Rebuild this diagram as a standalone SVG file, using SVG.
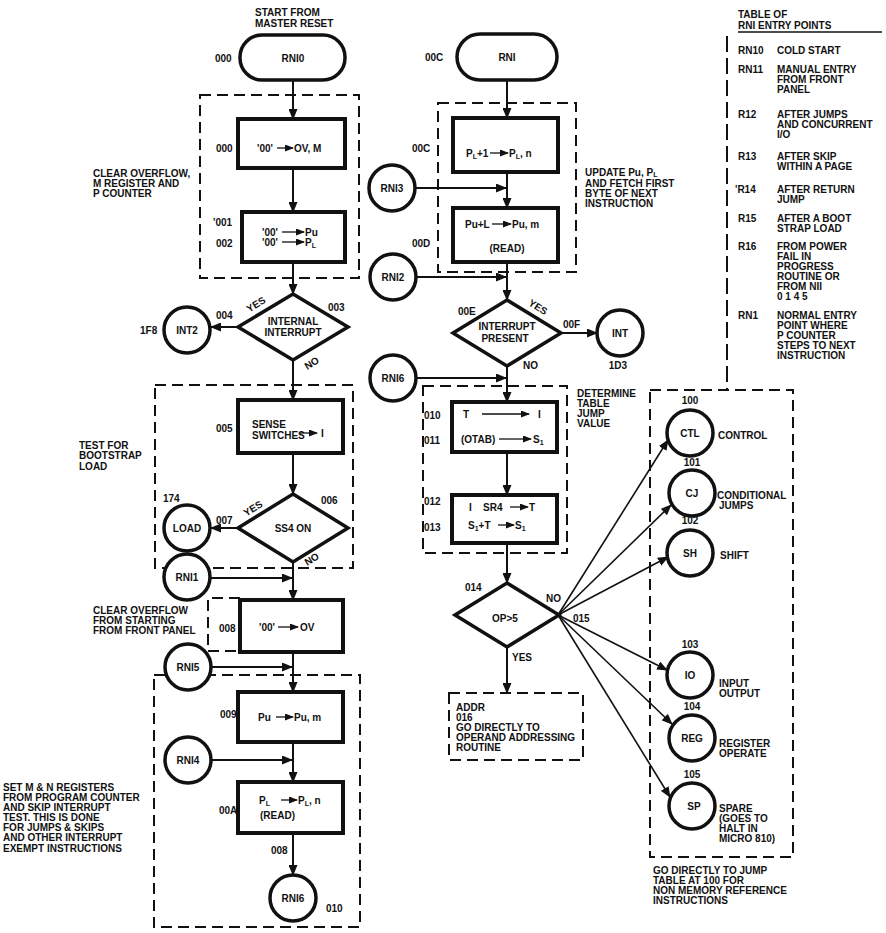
<svg xmlns="http://www.w3.org/2000/svg" width="886" height="933" viewBox="0 0 886 933">
<style>
.t{font-family:"Liberation Sans",Arial,Helvetica,sans-serif;font-weight:bold;font-size:10px;fill:#111}
.c{text-anchor:middle}
.box{fill:#fff;stroke:#111;stroke-width:4}
.circ{fill:#fff;stroke:#111;stroke-width:3.5}
.dia{fill:#fff;stroke:#111;stroke-width:3.5;stroke-linejoin:miter}
.dash{fill:none;stroke:#111;stroke-width:2;stroke-dasharray:11 6}
.conn{fill:none;stroke:#111;stroke-width:2;marker-end:url(#ah)}
.fan{fill:none;stroke:#111;stroke-width:1.6;marker-end:url(#ah)}
.sa{fill:none;stroke:#111;stroke-width:1.3;marker-end:url(#sh)}
.sub{font-size:7px}
</style>
<defs>
<marker id="ah" markerUnits="userSpaceOnUse" markerWidth="11" markerHeight="9" refX="10" refY="4.5" orient="auto"><path d="M0,0 L11,4.5 L0,9 z" fill="#111"/></marker>
<marker id="sh" markerUnits="userSpaceOnUse" markerWidth="9" markerHeight="7" refX="8" refY="3.5" orient="auto"><path d="M0,0 L9,3.5 L0,7 z" fill="#111"/></marker>
</defs>
<rect width="886" height="933" fill="#fff"/>

<!-- dashed groupings -->
<g id="groups">
<rect class="dash" x="200" y="95" width="159" height="183"/>
<rect class="dash" x="155" y="385" width="198" height="183"/>
<path class="dash" d="M240,598 H208 V651 H240"/>
<rect class="dash" x="154" y="675" width="206" height="252"/>
<rect class="dash" x="438" y="103" width="138" height="169"/>
<rect class="dash" x="423" y="386" width="144" height="167"/>
<rect class="dash" x="650" y="390" width="143" height="467"/>
<path class="dash" d="M727,36 V390" style="stroke-dasharray:16 6"/>
</g>

<!-- connectors -->
<g id="connectors">
<path class="conn" d="M293,80 V119"/>
<path class="conn" d="M293,168 V212"/>
<path class="conn" d="M293,262 V294"/>
<path class="conn" d="M238,327 H211"/>
<path class="conn" d="M293,360 V400"/>
<path class="conn" d="M293,453 V494"/>
<path class="conn" d="M238,528 H211"/>
<path class="conn" d="M293,562 V600"/>
<path class="conn" d="M211,578 H292"/>
<path class="conn" d="M293,652 V692"/>
<path class="conn" d="M212,667 H292"/>
<path class="conn" d="M293,742 V782"/>
<path class="conn" d="M212,760 H292"/>
<path class="conn" d="M293,833 V875"/>

<path class="conn" d="M507,80 V118"/>
<path class="conn" d="M507,172 V208"/>
<path class="conn" d="M416,188 H506"/>
<path class="conn" d="M507,262 V300"/>
<path class="conn" d="M416,277 H506"/>
<path class="conn" d="M560,333 H597"/>
<path class="conn" d="M507,366 V402"/>
<path class="conn" d="M416,378 H506"/>
<path class="conn" d="M507,452 V495"/>
<path class="conn" d="M507,543 V583"/>
<path class="conn" d="M507,647 V693"/>

<path class="fan" d="M558,615 L668,440"/>
<path class="fan" d="M558,615 L671,505"/>
<path class="fan" d="M558,615 L668,557"/>
<path class="fan" d="M558,615 L667,670"/>
<path class="fan" d="M558,615 L672,724"/>
<path class="fan" d="M558,615 L670,797"/>
</g>

<!-- left column -->
<g id="rni0">
<rect class="box" x="240" y="35" width="105" height="45" rx="22" style="stroke-width:3.5"/>
<text class="t c" x="293" y="61.5">RNI0</text>
<text class="t" x="215" y="61.5">000</text>
</g>
<g id="b000">
<rect class="box" x="238" y="119" width="107" height="49"/>
<text class="t" x="257" y="151.5">'00'</text>
<path class="sa" d="M277,148 H293"/>
<text class="t" x="294" y="151.5">OV, M</text>
<text class="t" x="216" y="151.5">000</text>
</g>
<g id="b001">
<rect class="box" x="242" y="212" width="103" height="50"/>
<text class="t" x="262" y="235.5">'00'</text>
<path class="sa" d="M282,232 H304"/>
<text class="t" x="305" y="235.5">Pu</text>
<text class="t" x="262" y="245.5">'00'</text>
<path class="sa" d="M282,242 H304"/>
<text class="t" x="305" y="245.5">P<tspan class="sub" dy="2">L</tspan></text>
<text class="t" x="213" y="225.5">'001</text>
<text class="t" x="216" y="246.5">002</text>
</g>
<g id="d003">
<polygon class="dia" points="293,294 348,327 293,360 238,327"/>
<text class="t c" x="293" y="325">INTERNAL</text>
<text class="t c" x="293" y="336">INTERRUPT</text>
<text class="t" x="328" y="310.5">003</text>
<text class="t" x="216" y="319">004</text>
<text class="t" x="246" y="309" transform="rotate(-32 254 305)">YES</text>
<text class="t" x="304" y="367" transform="rotate(-32 311 363)">NO</text>
</g>
<g id="int2">
<circle class="circ" cx="187" cy="330" r="23"/>
<text class="t c" x="187" y="333.5">INT2</text>
<text class="t" x="140" y="333.5">1F8</text>
</g>
<g id="b005">
<rect class="box" x="238" y="400" width="105" height="53"/>
<text class="t" x="252" y="427.5">SENSE</text>
<text class="t" x="252" y="438.5">SWITCHES</text>
<path class="sa" d="M300,433 H317"/>
<text class="t" x="321" y="437">I</text>
<text class="t" x="216" y="431.5">005</text>
</g>
<g id="d006">
<polygon class="dia" points="293,494 348,528 293,562 238,528"/>
<text class="t c" x="293" y="531.5">SS4 ON</text>
<text class="t" x="321" y="503.5">006</text>
<text class="t" x="216" y="524">007</text>
<text class="t" x="243" y="513" transform="rotate(-32 251 509)">YES</text>
<text class="t" x="304" y="563" transform="rotate(-32 311 559)">NO</text>
</g>
<g id="load">
<circle class="circ" cx="187" cy="528" r="23"/>
<text class="t c" x="187" y="531.5">LOAD</text>
<text class="t" x="163" y="501.5">174</text>
</g>
<g id="rni1">
<circle class="circ" cx="187" cy="577" r="23"/>
<text class="t c" x="187" y="580.5">RNI1</text>
</g>
<g id="b008">
<rect class="box" x="240" y="600" width="103" height="52"/>
<text class="t" x="259" y="630.5">'00'</text>
<path class="sa" d="M278,627 H298"/>
<text class="t" x="300" y="630.5">OV</text>
<text class="t" x="219" y="631.5">008</text>
</g>
<g id="rni5">
<circle class="circ" cx="188" cy="667" r="23"/>
<text class="t c" x="188" y="670.5">RNI5</text>
</g>
<g id="b009">
<rect class="box" x="238" y="692" width="105" height="50"/>
<text class="t" x="258" y="720.5">Pu</text>
<path class="sa" d="M276,717 H293"/>
<text class="t" x="294" y="720.5">Pu, m</text>
<text class="t" x="220" y="717.5">009</text>
</g>
<g id="rni4">
<circle class="circ" cx="188" cy="760" r="23"/>
<text class="t c" x="188" y="763.5">RNI4</text>
</g>
<g id="b00a">
<rect class="box" x="238" y="782" width="105" height="51"/>
<text class="t" x="259" y="803.5">P<tspan class="sub" dy="2">L</tspan></text>
<path class="sa" d="M281,800 H297"/>
<text class="t" x="298" y="803.5">P<tspan class="sub" dy="2">L</tspan><tspan dy="-2">, n</tspan></text>
<text class="t" x="260" y="818.5">(READ)</text>
<text class="t" x="219" y="813.5">00A</text>
</g>
<g id="rni6a">
<circle class="circ" cx="293" cy="898" r="23"/>
<text class="t c" x="293" y="901.5">RNI6</text>
<text class="t" x="271" y="853.5">008</text>
<text class="t" x="326" y="911.5">010</text>
</g>

<!-- center column -->
<g id="rni">
<rect class="box" x="457" y="34" width="100" height="46" rx="23" style="stroke-width:3.5"/>
<text class="t c" x="507" y="60.5">RNI</text>
<text class="t" x="425" y="60.5">00C</text>
</g>
<g id="b00c">
<rect class="box" x="453" y="118" width="105" height="54"/>
<text class="t" x="466" y="156.5">P<tspan class="sub" dy="2">L</tspan><tspan dy="-2">+1</tspan></text>
<path class="sa" d="M490,153 H508"/>
<text class="t" x="509" y="156.5">P<tspan class="sub" dy="2">L</tspan><tspan dy="-2">, n</tspan></text>
<text class="t" x="412" y="151.5">00C</text>
</g>
<g id="rni3">
<circle class="circ" cx="392" cy="188" r="23"/>
<text class="t c" x="392" y="191.5">RNI3</text>
</g>
<g id="b00d">
<rect class="box" x="453" y="208" width="105" height="54"/>
<text class="t" x="465" y="227.5">Pu+L</text>
<path class="sa" d="M492,224 H511"/>
<text class="t" x="512" y="227.5">Pu, m</text>
<text class="t c" x="507" y="251.5">(READ)</text>
<text class="t" x="412" y="246.5">00D</text>
</g>
<g id="rni2">
<circle class="circ" cx="393" cy="277" r="23"/>
<text class="t c" x="393" y="280.5">RNI2</text>
</g>
<g id="d00e">
<polygon class="dia" points="507,300 561,333 507,366 453,333"/>
<text class="t c" x="507" y="330">INTERRUPT</text>
<text class="t c" x="505" y="342">PRESENT</text>
<text class="t" x="458" y="314.5">00E</text>
<text class="t" x="563" y="327.5">00F</text>
<text class="t" x="528" y="310" transform="rotate(32 537 307)">YES</text>
<text class="t" x="523" y="368.5">NO</text>
</g>
<g id="int">
<circle class="circ" cx="620" cy="333" r="23"/>
<text class="t c" x="620" y="336.5">INT</text>
<text class="t c" x="618" y="368.5">1D3</text>
</g>
<g id="rni6b">
<circle class="circ" cx="393" cy="378" r="23"/>
<text class="t c" x="393" y="381.5">RNI6</text>
</g>
<g id="b010">
<rect class="box" x="452" y="402" width="105" height="50"/>
<text class="t" x="463" y="418">T</text>
<path class="sa" d="M482,414 H529"/>
<text class="t" x="538" y="418">I</text>
<text class="t" x="461" y="443">(OTAB)</text>
<path class="sa" d="M499,439 H531"/>
<text class="t" x="533" y="443">S<tspan class="sub" dy="2">1</tspan></text>
<text class="t" x="424" y="418.5">010</text>
<text class="t" x="424" y="443.5">011</text>
</g>
<g id="b012">
<rect class="box" x="452" y="495" width="105" height="48"/>
<text class="t" x="469" y="510.5">I</text>
<text class="t" x="483" y="510.5">SR4</text>
<path class="sa" d="M510,507 H528"/>
<text class="t" x="529" y="510.5">T</text>
<text class="t" x="468" y="528.5">S<tspan class="sub" dy="2">1</tspan><tspan dy="-2">+T</tspan></text>
<path class="sa" d="M498,525 H514"/>
<text class="t" x="515" y="528.5">S<tspan class="sub" dy="2">1</tspan></text>
<text class="t" x="424" y="504.5">012</text>
<text class="t" x="424" y="530.5">013</text>
</g>
<g id="d014">
<polygon class="dia" points="507,583 559,615 507,647 455,615"/>
<text class="t c" x="505" y="622">OP&gt;5</text>
<text class="t" x="465" y="590.5">014</text>
<text class="t" x="546" y="601.5">NO</text>
<text class="t" x="573" y="621.5">015</text>
<text class="t" x="512" y="660.5">YES</text>
</g>
<g id="addr">
<rect class="dash" x="449" y="693" width="134" height="67"/>
<text class="t" x="456" y="710.5">ADDR</text>
<text class="t" x="456" y="720.5">016</text>
<text class="t" x="456" y="731">GO DIRECTLY TO</text>
<text class="t" x="456" y="741">OPERAND ADDRESSING</text>
<text class="t" x="456" y="751">ROUTINE</text>
</g>

<!-- jump table circles -->
<g id="ctl">
<circle class="circ" cx="690" cy="433" r="23"/>
<text class="t c" x="690" y="436.5">CTL</text>
<text class="t c" x="690" y="404">100</text>
<text class="t" x="718" y="438.5">CONTROL</text>
</g>
<g id="cj">
<circle class="circ" cx="692" cy="493" r="23"/>
<text class="t c" x="692" y="496.5">CJ</text>
<text class="t c" x="692" y="465.5">101</text>
<text class="t" x="717" y="498.5">CONDITIONAL</text>
<text class="t" x="719" y="508.5">JUMPS</text>
</g>
<g id="sh">
<circle class="circ" cx="690" cy="553" r="23"/>
<text class="t c" x="690" y="556.5">SH</text>
<text class="t c" x="690" y="524">102</text>
<text class="t" x="720" y="558.5">SHIFT</text>
</g>
<g id="io">
<circle class="circ" cx="690" cy="675" r="23"/>
<text class="t c" x="690" y="678.5">IO</text>
<text class="t c" x="690" y="648">103</text>
<text class="t" x="719" y="686.5">INPUT</text>
<text class="t" x="719" y="696.5">OUTPUT</text>
</g>
<g id="reg">
<circle class="circ" cx="692" cy="738" r="23"/>
<text class="t c" x="692" y="741.5">REG</text>
<text class="t c" x="692" y="710">104</text>
<text class="t" x="719" y="746.5">REGISTER</text>
<text class="t" x="719" y="756.5">OPERATE</text>
</g>
<g id="sp">
<circle class="circ" cx="692" cy="806" r="23"/>
<text class="t c" x="694" y="809.5">SP</text>
<text class="t c" x="692" y="778">105</text>
<text class="t" x="719" y="811.5">SPARE</text>
<text class="t" x="719" y="821.5">(GOES TO</text>
<text class="t" x="719" y="831.5">HALT IN</text>
<text class="t" x="719" y="841.5">MICRO 810)</text>
</g>

<!-- annotations -->
<g id="notes">
<text class="t" x="255" y="16">START FROM</text>
<text class="t" x="255" y="27">MASTER RESET</text>
<text class="t" x="93" y="176.5">CLEAR OVERFLOW,</text>
<text class="t" x="93" y="186.5">M REGISTER AND</text>
<text class="t" x="93" y="196.5">P COUNTER</text>
<text class="t" x="79" y="448.5">TEST FOR</text>
<text class="t" x="79" y="459">BOOTSTRAP</text>
<text class="t" x="79" y="469.5">LOAD</text>
<text class="t" x="93" y="613.5">CLEAR OVERFLOW</text>
<text class="t" x="93" y="623.5">FROM STARTING</text>
<text class="t" x="93" y="634">FROM FRONT PANEL</text>
<text class="t" x="3" y="790.5">SET M &amp; N REGISTERS</text>
<text class="t" x="3" y="800.5">FROM PROGRAM COUNTER</text>
<text class="t" x="3" y="810.5">AND SKIP INTERRUPT</text>
<text class="t" x="3" y="820.5">TEST. THIS IS DONE</text>
<text class="t" x="3" y="831">FOR JUMPS &amp; SKIPS</text>
<text class="t" x="3" y="841">AND OTHER INTERRUPT</text>
<text class="t" x="3" y="851.5">EXEMPT INSTRUCTIONS</text>
<text class="t" x="585" y="175.5">UPDATE Pu, P<tspan class="sub" dy="1">L</tspan></text>
<text class="t" x="585" y="186.5">AND FETCH FIRST</text>
<text class="t" x="585" y="196.5">BYTE OF NEXT</text>
<text class="t" x="585" y="206.5">INSTRUCTION</text>
<text class="t" x="577" y="396.5">DETERMINE</text>
<text class="t" x="577" y="406.5">TABLE</text>
<text class="t" x="577" y="416.5">JUMP</text>
<text class="t" x="577" y="427">VALUE</text>
<text class="t" x="653" y="873.5">GO DIRECTLY TO JUMP</text>
<text class="t" x="653" y="883.5">TABLE AT 100 FOR</text>
<text class="t" x="653" y="894">NON MEMORY REFERENCE</text>
<text class="t" x="653" y="904">INSTRUCTIONS</text>
</g>

<g id="table">
<text class="t" x="738" y="17.5">TABLE OF</text>
<text class="t" x="738" y="28.5">RNI ENTRY POINTS</text>
<path d="M738,32 H882" stroke="#111" stroke-width="1.3"/>
<text class="t" x="738" y="53.5">RN10</text><text class="t" x="777" y="53.5">COLD START</text>
<text class="t" x="738" y="72.5">RN11</text><text class="t" x="777" y="72.5">MANUAL ENTRY</text>
<text class="t" x="777" y="82.5">FROM FRONT</text><text class="t" x="777" y="92.5">PANEL</text>
<text class="t" x="738" y="117.5">R12</text><text class="t" x="777" y="117.5">AFTER JUMPS</text>
<text class="t" x="777" y="127.5">AND CONCURRENT</text><text class="t" x="777" y="137.5">I/O</text>
<text class="t" x="738" y="159.5">R13</text><text class="t" x="777" y="159.5">AFTER SKIP</text>
<text class="t" x="777" y="169.5">WITHIN A PAGE</text>
<text class="t" x="735" y="192.5">'R14</text><text class="t" x="777" y="192.5">AFTER RETURN</text>
<text class="t" x="777" y="202.5">JUMP</text>
<text class="t" x="738" y="221.5">R15</text><text class="t" x="777" y="221.5">AFTER A BOOT</text>
<text class="t" x="777" y="231.5">STRAP LOAD</text>
<text class="t" x="738" y="249.5">R16</text><text class="t" x="777" y="249.5">FROM POWER</text>
<text class="t" x="777" y="259.5">FAIL IN</text>
<text class="t" x="777" y="269.5">PROGRESS</text>
<text class="t" x="777" y="279.5">ROUTINE OR</text>
<text class="t" x="777" y="289.5">FROM NII</text>
<text class="t" x="777" y="299.5">0 1 4 5</text>
<text class="t" x="738" y="318.5">RN1</text><text class="t" x="777" y="318.5">NORMAL ENTRY</text>
<text class="t" x="777" y="328.5">POINT WHERE</text>
<text class="t" x="777" y="338.5">P COUNTER</text>
<text class="t" x="777" y="348.5">STEPS TO NEXT</text>
<text class="t" x="777" y="359">INSTRUCTION</text>
</g>
</svg>
